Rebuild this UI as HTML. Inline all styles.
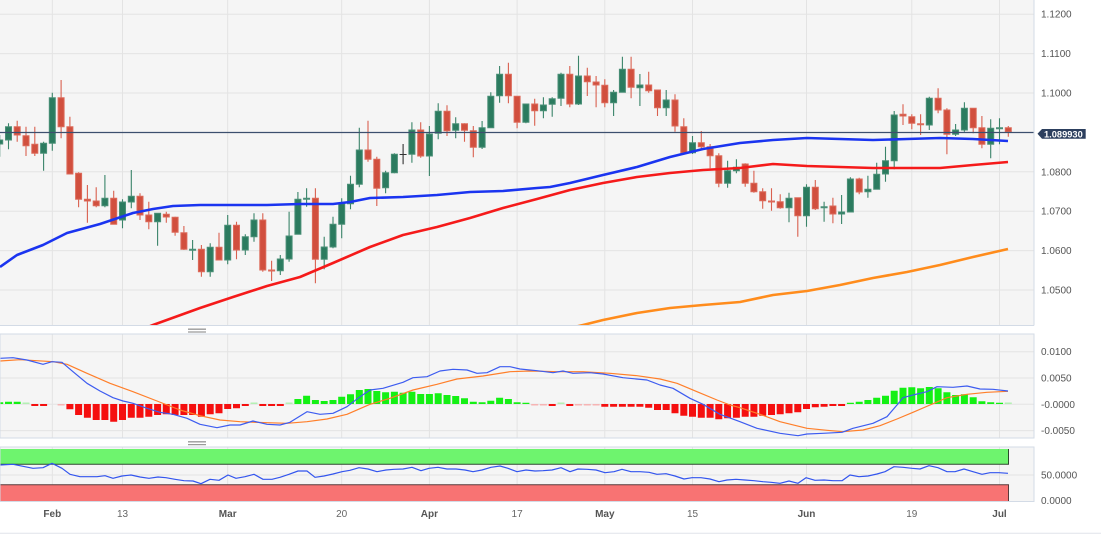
<!DOCTYPE html>
<html><head><meta charset="utf-8"><style>
html,body{margin:0;padding:0;background:#fff;}
svg{display:block;}
text{font-family:"Liberation Sans",sans-serif;}
</style></head><body>
<svg width="1101" height="535" viewBox="0 0 1101 535" xmlns="http://www.w3.org/2000/svg">
<defs>
<clipPath id="cm"><rect x="0" y="0" width="1034" height="325"/></clipPath>
<clipPath id="cd"><rect x="0" y="334" width="1034" height="104"/></clipPath>
<clipPath id="cr"><rect x="0" y="447" width="1034" height="54.5"/></clipPath>
</defs>
<rect width="1101" height="535" fill="#fff"/>
<!-- main panel -->
<rect x="0" y="0" width="1034" height="325" fill="#f5f5f5"/>
<g stroke="#e3e3e3" stroke-width="1">
<path d="M0 14.2H1034M0 53.6H1034M0 93H1034M0 171.8H1034M0 211.2H1034M0 250.6H1034M0 290H1034"/>
<path d="M52.3 0V325M122.5 0V325M227.7 0V325M341.7 0V325M429.4 0V325M517.1 0V325M604.8 0V325M692.5 0V325M806.5 0V325M911.8 0V325M999.5 0V325"/>
</g>
<g clip-path="url(#cm)">
<path fill="none" stroke="#3a8469" stroke-width="1.1" d="M-0.3 135V156.7M8.5 123.3V149.3M43.6 141.7V170.7M52.3 92.7V150.7M104.9 175V207.3M122.5 199.3V228.3M131.3 170V208.3M157.6 213.3V245.7M192.6 240V260M210.2 243.3V276.7M227.7 215V264.3M245.3 234.3V255M254 213.3V241.7M280.3 255V275M289.1 211.7V261.7M297.9 192V234.3M306.6 188.3V206.7M324.2 236.7V269.3M333 216.7V248.3M341.7 198.3V238.3M350.5 175.7V209.3M359.3 127.7V187.3M385.6 170.7V193.3M394.4 153.3V173.3M411.9 122.3V162.7M429.4 126V176M438.2 103.3V139.3M455.7 117.3V138.3M482.1 121V149M490.8 92.3V127.7M499.6 66V102.7M525.9 104V123.3M543.4 97.3V118.3M552.2 97.3V116.7M561 72.7V106M578.5 55.7V105M613.6 90V116M622.4 56.7V92.3M639.9 74V106M666.2 90V116M692.5 136V154M727.6 160.7V187.7M736.4 159.3V173.3M789 192.7V222.3M806.5 184.3V226.7M824.1 201.7V221.7M841.6 195V224M850.4 177.3V212M867.9 175.7V197.7M876.7 162.7V189.3M885.5 146.7V181.7M894.2 111V169.3M929.3 96.7V130M955.6 124V136M964.4 102.3V131.7M990.7 119.3V158.3M999.5 118.3V144.3"/>
<path fill="#2b7b5f" stroke="#4a8f77" stroke-width="1" d="M-3.3 140h6V144h-6zM5.5 126.7h6V140h-6zM40.6 143.3h6V153.3h-6zM49.3 97.7h6V143.3h-6zM101.9 198.3h6V205.7h-6zM119.5 202h6V220h-6zM128.3 196.3h6V202h-6zM154.6 213.3h6V221.7h-6zM189.6 249.3h6V250.3h-6zM207.2 247.3h6V271.7h-6zM224.7 225.3h6V260h-6zM242.3 236.7h6V250h-6zM251 220h6V236.7h-6zM277.3 259h6V270.7h-6zM286.1 236h6V259h-6zM294.9 199.3h6V234.3h-6zM303.6 198.3h6V199.3h-6zM321.2 247h6V259.3h-6zM330 224.3h6V247h-6zM338.7 203.7h6V224.3h-6zM347.5 184.3h6V203.7h-6zM356.3 150h6V184.3h-6zM382.6 172.7h6V187.7h-6zM391.4 154.3h6V172.7h-6zM408.9 130h6V154.3h-6zM426.4 134h6V156h-6zM435.2 111.3h6V133.3h-6zM452.7 123.7h6V130.3h-6zM479.1 127.7h6V147.3h-6zM487.8 96.3h6V127.7h-6zM496.6 74.3h6V95.7h-6zM522.9 104h6V122.3h-6zM540.4 105h6V110.7h-6zM549.2 98.7h6V104.3h-6zM558 74.3h6V98.3h-6zM575.5 76h6V104h-6zM610.6 92.3h6V102.7h-6zM619.4 69.3h6V92.3h-6zM636.9 85h6V87.7h-6zM663.2 100h6V107.7h-6zM689.5 142.7h6V152.7h-6zM724.6 170.7h6V183.3h-6zM733.4 167.3h6V170.7h-6zM786 198.3h6V207.7h-6zM803.5 187.3h6V215.7h-6zM821.1 206.7h6V207.7h-6zM838.6 212h6V214h-6zM847.4 179h6V212h-6zM864.9 189.3h6V191.7h-6zM873.7 174.3h6V189.3h-6zM882.5 160.7h6V174h-6zM891.2 115h6V160.7h-6zM926.3 98.3h6V125h-6zM952.6 130h6V134.3h-6zM961.4 108.3h6V130h-6zM987.7 128.3h6V144.3h-6zM996.5 127.7h6V128.7h-6z"/>
<path fill="none" stroke="#d9604f" stroke-width="1.1" d="M17.2 120.7V141.7M26 126.7V156M34.8 126.7V156M61.1 80V138.3M69.9 116.7V174M78.6 172.3V207.3M87.4 185V222.7M96.2 187.3V207.3M113.7 190.7V224.3M140 193.3V220M148.8 201.7V229.3M166.3 211.7V222.7M175.1 216.7V235.7M183.9 226V250M201.4 245V276.7M219 232.7V260M236.5 221.7V259.3M262.8 213.3V271.7M271.6 260.7V281M315.4 188.3V283.3M368 120.7V161.7M376.8 156.7V206M420.7 122.3V157.7M447 105.3V136M464.5 123.3V141.7M473.3 126V157.3M508.4 62.7V103.3M517.1 96.3V128.3M534.7 98.7V125.7M569.8 66V107.3M587.3 67.7V96M596.1 76V107.3M604.8 79.3V107.3M631.1 56.7V98.3M648.7 71.7V92.7M657.5 90V116M675 94.3V131.7M683.8 118.3V152.7M701.3 131V149.3M710.1 144V168.3M718.8 153.3V187.3M745.2 163.3V186.7M753.9 170.7V192.7M762.7 188.3V208.7M771.5 188.3V210.7M780.2 194.3V208.7M797.8 197.7V236.7M815.3 180V210M832.9 197.7V223.3M859.2 177.7V194.3M903 104.3V125M911.8 114.3V129.3M920.6 114.3V135M938.1 88.3V113.3M946.9 108.3V154.3M973.2 108.3V133.3M981.9 116V148.3M1008.3 126V136.7"/>
<path fill="#d14f3e" stroke="#dc6a5a" stroke-width="1" d="M14.2 126.7h6V135h-6zM23 135.7h6V145.7h-6zM31.8 144.3h6V153.3h-6zM58.1 97.7h6V126.7h-6zM66.9 126.7h6V174h-6zM75.6 173.3h6V199.3h-6zM84.4 199.3h6V201h-6zM93.2 201h6V205.7h-6zM110.7 198.3h6V224.3h-6zM137 196.3h6V215h-6zM145.8 215h6V221.7h-6zM163.3 214.3h6V217h-6zM172.1 217.3h6V232.3h-6zM180.9 232.7h6V249.3h-6zM198.4 249.3h6V271.7h-6zM216 247.3h6V260h-6zM233.5 225.3h6V250h-6zM259.8 220h6V270h-6zM268.6 270h6V271h-6zM312.4 198.3h6V259.3h-6zM365 150h6V159.3h-6zM373.8 159.3h6V188.3h-6zM417.7 130h6V156h-6zM444 111.3h6V130.7h-6zM461.5 123.7h6V130.3h-6zM470.3 130.7h6V147.3h-6zM505.4 74.3h6V95.7h-6zM514.1 96.3h6V122.3h-6zM531.7 104h6V110.7h-6zM566.8 74.3h6V104h-6zM584.3 76h6V81.7h-6zM593.1 82h6V85h-6zM601.8 85.3h6V102.7h-6zM628.1 69.3h6V87.3h-6zM645.7 85h6V90.7h-6zM654.5 90h6V107.7h-6zM672 100h6V126h-6zM680.8 126.7h6V152.7h-6zM698.3 142.7h6V146.7h-6zM707.1 146.7h6V155.7h-6zM715.8 155.7h6V183.3h-6zM742.2 164h6V183.3h-6zM750.9 183.3h6V191.7h-6zM759.7 191.7h6V200.7h-6zM768.5 201h6V202h-6zM777.2 201.7h6V207.7h-6zM794.8 197.7h6V215.7h-6zM812.3 187.3h6V208.7h-6zM829.9 206h6V214h-6zM856.2 179h6V192h-6zM900 114.3h6V116h-6zM908.8 116.7h6V123.3h-6zM917.6 123.7h6V124.7h-6zM935.1 98.3h6V110h-6zM943.9 110h6V134.3h-6zM970.2 108.3h6V127.7h-6zM978.9 127.7h6V144.3h-6zM1005.3 127.7h6V131.7h-6z"/>
<path stroke="#333" stroke-width="1.1" d="M403.1 144V164.3M399.6 154.5h7"/>
<polyline fill="none" stroke="#1a34f0" stroke-width="2.6" stroke-linejoin="round" points="0,267 17,255 43,245 67,233 100,224 133,213 153,209 173,206 200,205 233,205 267,205 300,204 333,204 350,202 370,198 403,197 437,195 470,192 503,191 537,188 550,187 570,183 603,175 637,167 670,157 703,149 740,143 773,140 807,138 840,139 873,140 907,139 940,138 973,139 1008,141"/>
<polyline fill="none" stroke="#f51a1a" stroke-width="2.6" stroke-linejoin="round" points="140,330 153,325 200,308 233,297 267,286 300,277 333,263 370,247 403,235 437,227 470,218 503,208 537,199 570,190 603,183 637,177 670,173 703,170 740,168 773,164 807,166 840,167 873,168 907,168 940,168 973,165 1008,162"/>
<polyline fill="none" stroke="#ff8c1c" stroke-width="2.6" stroke-linejoin="round" points="570,328 583,325 603,320 637,313 670,308 703,305 740,302 773,295 807,291 840,285 873,278 907,272 940,265 973,257 1008,249"/>
<path d="M0 132.5H1034" stroke="#3c4f6e" stroke-width="1.2"/>
</g>
<path d="M1034 0V325.5M0 325.5H1034" stroke="#d3dbe6" stroke-width="1" fill="none"/>
<!-- price label -->
<path d="M1037.5 133.8L1042 129H1085.7V138.7H1042Z" fill="#2c3f5e"/>
<text x="1044" y="137.3" font-size="9.3" font-weight="bold" fill="#fff">1.089930</text>
<g font-size="10" fill="#555">
<text x="1041" y="17.7">1.1200</text>
<text x="1041" y="57.1">1.1100</text>
<text x="1041" y="96.5">1.1000</text>
<text x="1041" y="175.3">1.0800</text>
<text x="1041" y="214.7">1.0700</text>
<text x="1041" y="254.1">1.0600</text>
<text x="1041" y="293.5">1.0500</text>
</g>
<!-- handle 1 -->
<path d="M188 329.2H206M188 332H206" stroke="#9a9a9a" stroke-width="1.3"/>
<!-- MACD panel -->
<rect x="0" y="334" width="1034" height="104" fill="#f5f5f5"/>
<g stroke="#e3e3e3" stroke-width="1">
<path d="M0 351.7H1034M0 378H1034M0 404.3H1034M0 430.6H1034"/>
<path d="M52.3 334V438M122.5 334V438M227.7 334V438M341.7 334V438M429.4 334V438M517.1 334V438M604.8 334V438M692.5 334V438M806.5 334V438M911.8 334V438M999.5 334V438"/>
</g>
<g clip-path="url(#cd)">
<path fill="#14f014" d="M-3.8 402.3h7V404h-7zM5 401.7h7V404h-7zM13.7 401.7h7V404h-7zM294.4 399h7V404h-7zM303.1 395.7h7V404h-7zM311.9 400h7V404h-7zM320.7 401h7V404h-7zM329.5 400h7V404h-7zM338.2 396.7h7V404h-7zM347 394.3h7V404h-7zM355.8 390h7V404h-7zM364.5 389h7V404h-7zM373.3 391h7V404h-7zM382.1 392.3h7V404h-7zM390.9 391.7h7V404h-7zM399.6 392.7h7V404h-7zM408.4 391.7h7V404h-7zM417.2 394h7V404h-7zM425.9 394h7V404h-7zM434.7 393.3h7V404h-7zM443.5 395h7V404h-7zM452.2 396h7V404h-7zM461 398.3h7V404h-7zM469.8 401.7h7V404h-7zM478.6 402.3h7V404h-7zM487.3 400.7h7V404h-7zM496.1 397.7h7V404h-7zM504.9 399h7V404h-7zM513.6 402.3h7V404h-7zM522.4 402.7h7V404h-7zM846.9 402.7h7V404h-7zM855.7 401.7h7V404h-7zM864.4 400h7V404h-7zM873.2 397.7h7V404h-7zM882 395.7h7V404h-7zM890.7 390.7h7V404h-7zM899.5 387.7h7V404h-7zM908.3 387.3h7V404h-7zM917.1 388.3h7V404h-7zM925.8 387h7V404h-7zM934.6 388.3h7V404h-7zM943.4 392.3h7V404h-7zM952.1 395h7V404h-7zM960.9 394.3h7V404h-7zM969.7 397.3h7V404h-7zM978.4 401.3h7V404h-7zM987.2 402.3h7V404h-7zM996 402.7h7V404h-7z"/>
<path fill="#f50f0f" d="M31.3 404h7V406h-7zM40.1 404h7V406h-7zM66.4 404h7V409.3h-7zM75.1 404h7V415h-7zM83.9 404h7V417.7h-7zM92.7 404h7V420h-7zM101.4 404h7V420h-7zM110.2 404h7V421.7h-7zM119 404h7V420h-7zM127.8 404h7V417.7h-7zM136.5 404h7V417.7h-7zM145.3 404h7V416.7h-7zM154.1 404h7V415h-7zM162.8 404h7V414.3h-7zM171.6 404h7V415h-7zM180.4 404h7V415h-7zM189.1 404h7V415h-7zM197.9 404h7V416.7h-7zM206.7 404h7V414.3h-7zM215.5 404h7V413.3h-7zM224.2 404h7V409h-7zM233 404h7V408.3h-7zM241.8 404h7V406h-7zM259.3 404h7V406h-7zM268.1 404h7V406h-7zM276.8 404h7V406h-7zM548.7 404h7V406h-7zM566.3 404h7V406h-7zM601.3 404h7V406.7h-7zM610.1 404h7V406.7h-7zM618.9 404h7V406.7h-7zM627.6 404h7V406.7h-7zM636.4 404h7V406.7h-7zM645.2 404h7V407.7h-7zM654 404h7V410h-7zM662.7 404h7V410h-7zM671.5 404h7V413.3h-7zM680.3 404h7V415.7h-7zM689 404h7V416.7h-7zM697.8 404h7V417.7h-7zM706.6 404h7V417.7h-7zM715.3 404h7V419.3h-7zM724.1 404h7V418.3h-7zM732.9 404h7V417.7h-7zM741.7 404h7V416.7h-7zM750.4 404h7V416.7h-7zM759.2 404h7V415.7h-7zM768 404h7V415h-7zM776.7 404h7V414.3h-7zM785.5 404h7V413.3h-7zM794.3 404h7V412.3h-7zM803 404h7V409h-7zM811.8 404h7V407.3h-7zM820.6 404h7V406.7h-7zM829.4 404h7V406h-7zM838.1 404h7V406h-7z"/>
<path fill="#f6b4b4" d="M57.6 404h7V405.5h-7zM531.2 404h7V405.5h-7zM539.9 404h7V405.5h-7zM575 404h7V405.5h-7zM583.8 404h7V405.5h-7zM592.6 404h7V405.5h-7z"/>
<path fill="#b4f0b4" d="M22.5 402.5h7V404h-7zM250.5 402.5h7V404h-7zM285.6 402.5h7V404h-7zM557.5 402.5h7V404h-7zM1004.8 402.5h7V404h-7z"/>
<polyline fill="none" stroke="#ff7f2a" stroke-width="1.2" stroke-linejoin="round" points="0,361 20,359.7 53,361.7 67,364.3 87,373.3 110,383.3 133,391.7 157,401 180,410 200,415.7 220,420 240,421.7 267,422.7 287,423.3 307,421.7 327,419 347,414.3 370,404.3 390,398.3 413,390 437,384.3 457,379 483,376 510,371.7 530,371 557,371.7 583,371.7 610,373.3 637,375.7 660,379 677,383.3 697,391.7 717,400 730,405 740,407.7 760,414.3 780,421.7 807,428.3 827,430.3 843,431.7 863,430 880,425.7 897,419 913,412.3 930,405 947,397.7 967,394.3 987,392.3 1008,391.3"/>
<polyline fill="none" stroke="#3d5cf0" stroke-width="1.2" stroke-linejoin="round" points="0,358.3 13,357.7 27,360 43,364.3 52,361.7 62,362.3 73,371.7 87,383.3 100,391 113,397.7 123,401 133,403.3 147,408.3 160,412.3 173,414.3 187,418.3 200,424.3 217,427.7 230,425 240,425 253,421 267,424.3 280,425 290,422.3 307,411.7 320,414.3 333,413.3 347,406.7 360,396.7 370,390 383,388.3 403,382.3 413,377.7 427,376.7 440,371 453,369.3 467,370 477,373.3 487,372.7 500,366.7 510,366.7 520,369 537,370.7 553,372.7 563,371 573,373.3 590,372.7 603,374 623,377.7 647,380 660,385 673,388.3 690,398.3 703,404.3 720,414.3 740,421.7 757,428.3 780,433.3 798,435.7 807,434 823,433.3 842,432.3 853,428.3 873,423.3 887,416.7 897,405 903,397.7 913,395 927,391.7 937,386.7 953,387.3 967,386 980,389 993,389.3 1008,391"/>
</g>
<rect x="0" y="334" width="1034" height="104" fill="none" stroke="#d3dbe6" stroke-width="1"/>
<g font-size="10" fill="#555">
<text x="1041" y="355.2">0.0100</text>
<text x="1041" y="381.5">0.0050</text>
<text x="1041" y="407.8">-0.0000</text>
<text x="1041" y="434.1">-0.0050</text>
</g>
<!-- handle 2 -->
<path d="M188 441.8H206M188 444.6H206" stroke="#9a9a9a" stroke-width="1.3"/>
<!-- RSI panel -->
<rect x="0" y="447" width="1034" height="54.5" fill="#f5f5f5"/>
<g stroke="#e3e3e3" stroke-width="1">
<path d="M0 475H1034"/>
<path d="M52.3 447V501.5M122.5 447V501.5M227.7 447V501.5M341.7 447V501.5M429.4 447V501.5M517.1 447V501.5M604.8 447V501.5M692.5 447V501.5M806.5 447V501.5M911.8 447V501.5M999.5 447V501.5"/>
</g>
<g clip-path="url(#cr)">
<rect x="0" y="449" width="1008.8" height="15.4" fill="#6ef46e"/>
<path d="M0 464.2H1008.5V449" fill="none" stroke="#2d4a2d" stroke-width="1"/>
<rect x="0" y="484.6" width="1008.8" height="17" fill="#f87373"/>
<path d="M0 484.8H1008.5V501.5" fill="none" stroke="#5a3a3a" stroke-width="1"/>
<polyline fill="none" stroke="#3355ee" stroke-width="1.2" stroke-linejoin="round" points="0,465 13,464.3 33,468.3 43,467.7 52,463.3 62,468.3 70,474.3 80,476.7 97,476.7 105,475.7 113,478.3 122,476 131,475 140,477 149,478.3 158,477 166,477.7 175,479.3 184,480.7 193,481 201,483.7 210,479.3 219,480.3 228,475 236,478.3 245,476.7 254,474.3 263,479.3 272,479.3 280,477.3 289,474.3 298,471 307,471 315,477.3 324,476 333,474 342,471.7 350,470.3 359,467.7 368,469 377,471.7 386,470 394,469.3 403,469 412,467.3 421,470.7 429,468.3 438,467.3 447,469 456,469 465,470 473,471.7 482,470 491,467.3 500,466 508,468.3 517,471.7 526,470 535,471 543,470.7 552,470 561,467.7 570,471.7 578,469 587,469.3 596,470 605,472.7 614,471.7 622,469.3 631,471.7 640,471.7 649,472.3 657,474.3 666,473.7 675,476 684,479 692,477.7 701,477.7 710,479 719,481.7 727,480 736,479.3 745,480 754,480.7 763,481.7 771,482.3 780,483.3 789,481 798,483.3 806,477.7 815,480.3 824,480 833,480.7 842,480.7 850,475 859,476.7 868,476 877,474 885,471.7 894,466.7 903,467.3 912,468.3 920,469 929,465.7 938,467.7 947,471.7 955,471.7 964,469 973,471.7 982,474.3 990,472.7 999,472.7 1008,473.3"/>
</g>
<rect x="0" y="447" width="1034" height="54.5" fill="none" stroke="#d3dbe6" stroke-width="1"/>
<g font-size="10" fill="#555">
<text x="1041" y="478.5">50.0000</text>
<text x="1041" y="504.2">0.0000</text>
</g>
<!-- x axis labels -->
<g font-size="10" text-anchor="middle">
<text x="52.3" y="517" font-weight="bold" fill="#555">Feb</text>
<text x="122.5" y="517" fill="#666">13</text>
<text x="227.7" y="517" font-weight="bold" fill="#555">Mar</text>
<text x="341.7" y="517" fill="#666">20</text>
<text x="429.4" y="517" font-weight="bold" fill="#555">Apr</text>
<text x="517.1" y="517" fill="#666">17</text>
<text x="604.8" y="517" font-weight="bold" fill="#555">May</text>
<text x="692.5" y="517" fill="#666">15</text>
<text x="806.5" y="517" font-weight="bold" fill="#555">Jun</text>
<text x="911.8" y="517" fill="#666">19</text>
<text x="999.5" y="517" font-weight="bold" fill="#555">Jul</text>
</g>
<path d="M0 533.3H1101" stroke="#e0e4ea" stroke-width="1"/>
</svg>
</body></html>
